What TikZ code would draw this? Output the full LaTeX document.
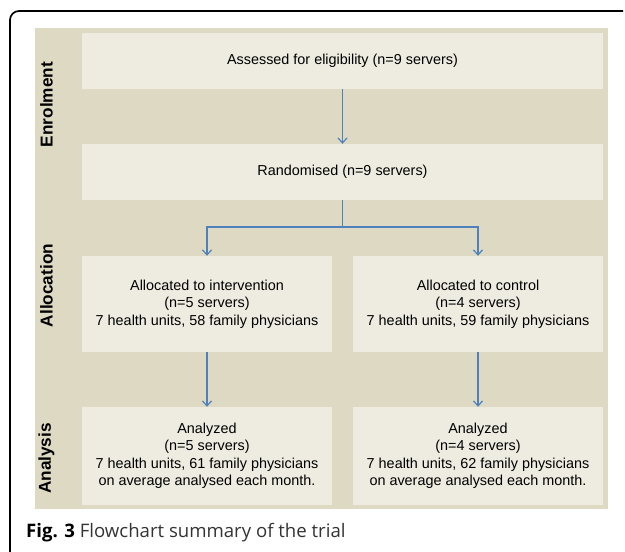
\documentclass[tikz,border=0pt]{standalone}
\usepackage{fontspec}
\setmainfont{Liberation Sans}
\newfontfamily\capfont{Open Sans}
\usetikzlibrary{positioning,arrows.meta}

\definecolor{bandtan}{HTML}{DDD9C3}
\definecolor{boxtan}{HTML}{EEECE1}
\definecolor{flowblue}{HTML}{4F81BD}
\definecolor{captext}{HTML}{333333}

\begin{document}
\begin{tikzpicture}[x=1pt,y=-1pt,
  box/.style={fill=boxtan,inner sep=0pt,align=center,
    font=\fontsize{14.4}{17.5}\selectfont},
  widebox/.style={box,minimum width=521pt,minimum height=56pt},
  armbox/.style={box,minimum width=250pt,minimum height=96pt},
  stage/.style={rotate=90,inner sep=0pt,font=\fontsize{17.2}{20}\selectfont\bfseries},
  link/.style={draw=flowblue,line width=1.2pt},
  flow/.style={link,-{Straight Barb[length=5pt,width=9pt]}}]
  \useasboundingbox (0,0) rectangle (625,552);

  % --- Frame and background band ---
  \draw[line width=1.7pt,rounded corners=9pt] (10,552) -- (10,11) -- (623,11);
  \fill[bandtan] (35,28) rectangle (608,509);

  % --- Stage labels ---
  \node[stage] (enrol) at (46.5,104.5) {Enrolment};
  \node[stage] (alloc) at (46.5,285.5) {Allocation};
  \node[stage] (analysis) at (46.5,458.5) {Analysis};

  % --- Boxes ---
  \node[widebox] (assess) at (342.5,60.5) {Assessed for eligibility (n=9 servers)};
  \node[widebox] (random) at (342.5,172) {Randomised (n=9 servers)};
  \node[armbox] (allocint) at (207,304)
    {Allocated to intervention\\(n=5 servers)\\7 health units, 58 family physicians};
  \node[armbox] (allocctl) at (478,304)
    {Allocated to control\\(n=4 servers)\\7 health units, 59 family physicians};
  \node[armbox,minimum height=98pt] (anaint) at (207,456)
    {Analyzed\\(n=5 servers)\\7 health units, 61 family physicians\\on average analysed each month.};
  \node[armbox,minimum height=98pt] (anactl) at (478,456)
    {Analyzed\\(n=4 servers)\\7 health units, 62 family physicians\\on average analysed each month.};

  % --- Arrows ---
  \coordinate (split) at (342.5,227);
  \draw[flow] (assess) -- (random);
  \draw[link] (random) -- (split);
  \draw[flow] (split) -| (allocint);
  \draw[flow] (split) -| (allocctl);
  \draw[flow] (allocint) -- (anaint);
  \draw[flow] (allocctl) -- (anactl);

  % --- Caption ---
  \node[anchor=base west,inner sep=0pt,text=captext,
    font=\capfont\fontsize{18.6}{22}\selectfont] (caption) at (26,537)
    {\textbf{\color{black}Fig. 3} Flowchart summary of the trial};
\end{tikzpicture}
\end{document}
